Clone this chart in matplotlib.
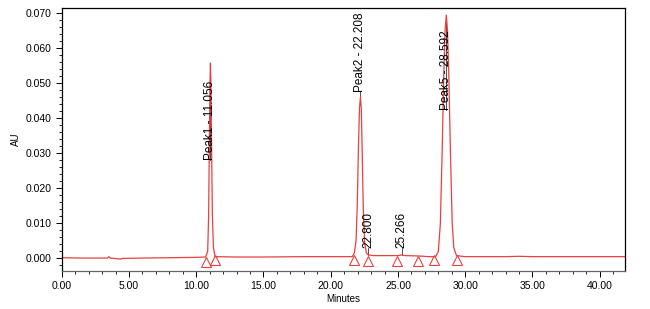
import matplotlib
matplotlib.use("Agg")
import matplotlib.pyplot as plt
from matplotlib.ticker import MultipleLocator, FormatStrFormatter

plt.rcParams['font.family'] = ['Liberation Sans', 'DejaVu Sans']

# Trace (minutes, AU)
time = [0.0, 1.5, 3.4, 3.5, 3.6, 4.4, 4.5, 6.0, 8.0, 10.0, 10.70,
        10.85, 10.92, 10.98, 11.02, 11.056, 11.09, 11.13, 11.20, 11.28, 11.40,
        13.0, 15.0, 18.0, 20.0, 21.6,
        21.75, 21.88, 21.97, 22.06, 22.14, 22.208, 22.27, 22.34, 22.42, 22.52, 22.65, 22.80,
        23.2, 24.0, 25.0, 25.266, 25.5, 26.5, 27.3, 27.8,
        28.00, 28.15, 28.28, 28.40, 28.50, 28.592, 28.68, 28.78, 28.90, 29.03, 29.15, 29.35,
        30.0, 31.5, 33.0, 34.0, 35.0, 37.0, 40.0, 42.0]
absorb = [0.0002, 0.0001, 0.0001, 0.0005, 0.0001, -0.0002, 0.0000, 0.0001, 0.0002, 0.0003, 0.0004,
          0.0020, 0.0120, 0.0350, 0.0500, 0.0557, 0.0500, 0.0350, 0.0120, 0.0030, 0.0005,
          0.0004, 0.0004, 0.0005, 0.0005, 0.0005,
          0.0015, 0.0050, 0.0150, 0.0320, 0.0430, 0.0460, 0.0430, 0.0300, 0.0140, 0.0045, 0.0015, 0.0010,
          0.0008, 0.0008, 0.0008, 0.0010, 0.0008, 0.0007, 0.0005, 0.0005,
          0.0020, 0.0100, 0.0300, 0.0520, 0.0650, 0.0694, 0.0650, 0.0520, 0.0300, 0.0100, 0.0030, 0.0008,
          0.0005, 0.0005, 0.0005, 0.0006, 0.0005, 0.0005, 0.0005, 0.0005]

# Peak labels
peak_rt = [11.056, 22.208, 22.800, 25.266, 28.592]
peak_h = [0.0557, 0.0460, 0.0010, 0.0010, 0.0694]
peak_text = ["Peak1 - 11.056", "Peak2 - 22.208", "22.800", "25.266", "Peak5 - 28.592"]
label_bottom = [0.0280, 0.0474, 0.0031, 0.0031, 0.0423]

# Integration start/end markers
marker_t = [10.72, 11.39, 21.70, 22.76, 24.90, 26.50, 27.70, 29.40]
marker_y = [-0.0009, -0.0005, -0.0005, -0.0007, -0.0007, -0.0008, -0.0005, -0.0004]

fig = plt.figure(figsize=(6.5, 3.09), dpi=100)
ax = fig.add_axes([0.095, 0.124, 0.867, 0.850])

red = '#e8403f'
for t, h, txt, lb in zip(peak_rt, peak_h, peak_text, label_bottom):
    ax.plot([t, t], [h, lb], color='#333333', lw=0.6, zorder=1)
    ax.text(t, lb, txt, rotation=90, ha='center', va='bottom', fontsize=8.5,
            color='black', zorder=3)

ax.plot(time, absorb, color=red, lw=0.9, zorder=2)
ax.plot(marker_t, marker_y, linestyle='none', marker='^', markersize=7.5,
        markerfacecolor='none', markeredgecolor=red, markeredgewidth=0.8, zorder=2)

ax.set_xlim(0, 41.9)
ax.set_ylim(-0.0035, 0.0714)
ax.xaxis.set_major_locator(MultipleLocator(5))
ax.xaxis.set_minor_locator(MultipleLocator(1))
ax.yaxis.set_major_locator(MultipleLocator(0.01))
ax.yaxis.set_minor_locator(MultipleLocator(0.002))
ax.xaxis.set_major_formatter(FormatStrFormatter('%.2f'))
ax.yaxis.set_major_formatter(FormatStrFormatter('%.3f'))
ax.tick_params(axis='both', which='major', labelsize=7.5, length=4, width=0.7, direction='out')
ax.tick_params(axis='both', which='minor', length=2.5, width=0.6, direction='out')
ax.set_xlabel('Minutes', fontsize=7, labelpad=2)
ax.set_ylabel('AU', fontsize=7, labelpad=3)
for s in ax.spines.values():
    s.set_linewidth(0.9)
ax.spines['bottom'].set_color('#666666')

fig.savefig('out.png', dpi=100)
